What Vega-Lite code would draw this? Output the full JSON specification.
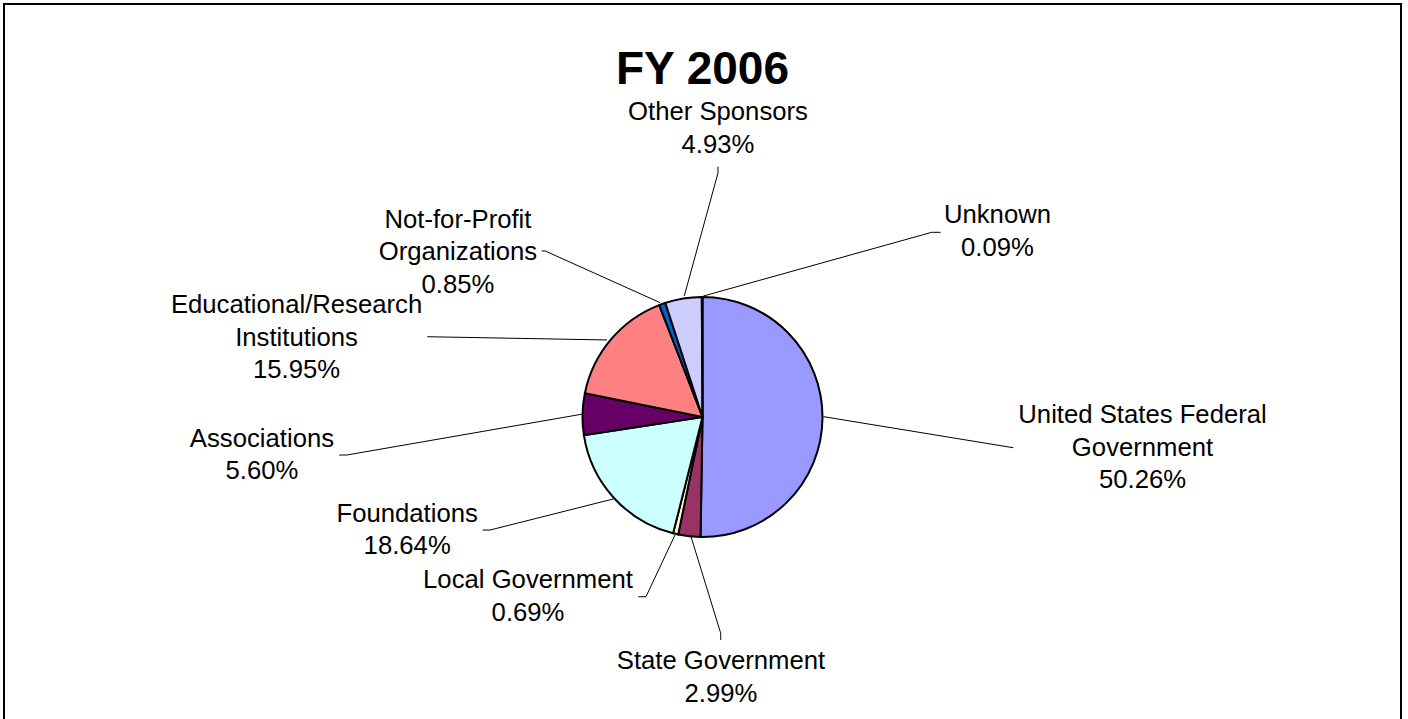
{
  "$schema": "https://vega.github.io/schema/vega-lite/v6.json",
  "width": 1397,
  "height": 720,
  "autosize": {"type": "none"},
  "padding": {"left": 4, "top": 4, "right": 7, "bottom": 0},
  "background": "white",
  "title": {
    "text": "FY 2006",
    "font": "Liberation Sans",
    "fontSize": 46,
    "fontWeight": "bold",
    "color": "black",
    "anchor": "middle",
    "frame": "group",
    "baseline": "alphabetic",
    "offset": -82,
    "dy": 44
  },
  "config": {"view": {"stroke": "black", "strokeWidth": 2}},
  "datasets": {
    "slices": [
      {"name": "United States Federal Government", "pct": 50.26, "ord": 1},
      {"name": "State Government", "pct": 2.99, "ord": 2},
      {"name": "Local Government", "pct": 0.69, "ord": 3},
      {"name": "Foundations", "pct": 18.64, "ord": 4},
      {"name": "Associations", "pct": 5.60, "ord": 5},
      {"name": "Educational/Research Institutions", "pct": 15.95, "ord": 6},
      {"name": "Not-for-Profit Organizations", "pct": 0.85, "ord": 7},
      {"name": "Other Sponsors", "pct": 4.93, "ord": 8},
      {"name": "Unknown", "pct": 0.09, "ord": 9}
    ],
    "labels": [
      {"name": "United States Federal Government", "label": "United States Federal\nGovernment\n50.26%", "lx": 3.667, "ly": -0.053},
      {"name": "State Government", "label": "State Government\n2.99%", "lx": 0.154, "ly": -2.104},
      {"name": "Local Government", "label": "Local Government\n0.69%", "lx": -1.454, "ly": -1.425},
      {"name": "Foundations", "label": "Foundations\n18.64%", "lx": -2.461, "ly": -0.873},
      {"name": "Associations", "label": "Associations\n5.60%", "lx": -3.671, "ly": -0.248},
      {"name": "Educational/Research Institutions", "label": "Educational/Research\nInstitutions\n15.95%", "lx": -3.383, "ly": 0.864},
      {"name": "Not-for-Profit Organizations", "label": "Not-for-Profit\nOrganizations\n0.85%", "lx": -2.038, "ly": 1.578},
      {"name": "Other Sponsors", "label": "Other Sponsors\n4.93%", "lx": 0.129, "ly": 2.475},
      {"name": "Unknown", "label": "Unknown\n0.09%", "lx": 2.458, "ly": 1.614}
    ],
    "leaders": [
      {"name": "United States Federal Government", "seq": 1, "x": 1.007, "y": 0.003},
      {"name": "United States Federal Government", "seq": 2, "x": 2.59, "y": -0.256},
      {"name": "State Government", "seq": 1, "x": -0.096, "y": -0.996},
      {"name": "State Government", "seq": 2, "x": 0.152, "y": -1.803},
      {"name": "State Government", "seq": 3, "x": 0.152, "y": -1.858},
      {"name": "Local Government", "seq": 1, "x": -0.229, "y": -0.983},
      {"name": "Local Government", "seq": 2, "x": -0.471, "y": -1.498},
      {"name": "Local Government", "seq": 3, "x": -0.535, "y": -1.498},
      {"name": "Foundations", "seq": 1, "x": -0.743, "y": -0.683},
      {"name": "Foundations", "seq": 2, "x": -1.771, "y": -0.942},
      {"name": "Foundations", "seq": 3, "x": -1.832, "y": -0.942},
      {"name": "Associations", "seq": 1, "x": -1.007, "y": 0.023},
      {"name": "Associations", "seq": 2, "x": -2.965, "y": -0.317},
      {"name": "Associations", "seq": 3, "x": -3.027, "y": -0.317},
      {"name": "Educational/Research Institutions", "seq": 1, "x": -0.796, "y": 0.642},
      {"name": "Educational/Research Institutions", "seq": 2, "x": -2.293, "y": 0.669},
      {"name": "Not-for-Profit Organizations", "seq": 1, "x": -0.354, "y": 0.953},
      {"name": "Not-for-Profit Organizations", "seq": 2, "x": -1.312, "y": 1.384},
      {"name": "Not-for-Profit Organizations", "seq": 3, "x": -1.34, "y": 1.383},
      {"name": "Other Sponsors", "seq": 1, "x": -0.152, "y": 1.008},
      {"name": "Other Sponsors", "seq": 2, "x": 0.129, "y": 2.033},
      {"name": "Other Sponsors", "seq": 3, "x": 0.129, "y": 2.086},
      {"name": "Unknown", "seq": 1, "x": 0.007, "y": 1.008},
      {"name": "Unknown", "seq": 2, "x": 1.91, "y": 1.539},
      {"name": "Unknown", "seq": 3, "x": 1.985, "y": 1.539}
    ]
  },
  "layer": [
    {
      "data": {"name": "leaders"},
      "mark": {"type": "line", "color": "black", "strokeWidth": 1},
      "encoding": {
        "x": {"field": "x", "type": "quantitative", "axis": null, "scale": {"domain": [-5.82083, 5.82083], "nice": false, "zero": false}},
        "y": {"field": "y", "type": "quantitative", "axis": null, "scale": {"domain": [-2.55833, 3.44167], "nice": false, "zero": false}},
        "detail": {"field": "name"},
        "order": {"field": "seq"}
      }
    },
    {
      "data": {"name": "slices"},
      "mark": {"type": "arc", "outerRadius": 120, "stroke": "black", "strokeWidth": 2, "strokeJoin": "miter"},
      "encoding": {
        "x": {"datum": 0, "type": "quantitative", "axis": null, "scale": {"domain": [-5.82083, 5.82083], "nice": false, "zero": false}},
        "y": {"datum": 0, "type": "quantitative", "axis": null, "scale": {"domain": [-2.55833, 3.44167], "nice": false, "zero": false}},
        "theta": {"field": "pct", "type": "quantitative", "stack": true},
        "order": {"field": "ord"},
        "color": {
          "field": "name",
          "type": "nominal",
          "legend": null,
          "scale": {
            "domain": ["United States Federal Government", "State Government", "Local Government", "Foundations", "Associations", "Educational/Research Institutions", "Not-for-Profit Organizations", "Other Sponsors", "Unknown"],
            "range": ["#9999FF", "#993366", "#FFFFCC", "#CCFFFF", "#660066", "#FF8080", "#0066CC", "#CCCCFF", "#000080"]
          }
        }
      }
    },
    {
      "data": {"name": "labels"},
      "mark": {"type": "text", "font": "Liberation Sans", "fontSize": 25.7, "color": "black", "align": "center", "baseline": "alphabetic", "lineBreak": "\n", "lineHeight": 32.5},
      "encoding": {
        "x": {"field": "lx", "type": "quantitative", "axis": null, "scale": {"domain": [-5.82083, 5.82083], "nice": false, "zero": false}},
        "y": {"field": "ly", "type": "quantitative", "axis": null, "scale": {"domain": [-2.55833, 3.44167], "nice": false, "zero": false}},
        "text": {"field": "label"}
      }
    }
  ]
}
